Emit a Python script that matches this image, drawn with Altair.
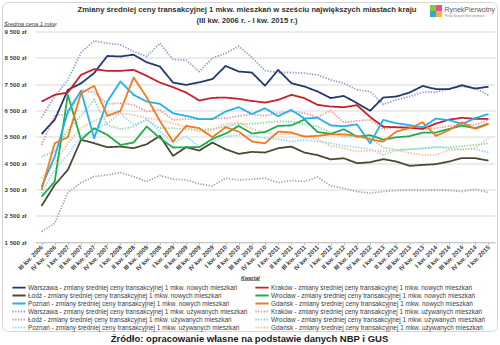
import altair as alt
import pandas as pd

quarters = [
    "III kw. 2006", "IV kw. 2006",
    "I kw. 2007", "II kw. 2007", "III kw. 2007", "IV kw. 2007",
    "I kw. 2008", "II kw. 2008", "III kw. 2008", "IV kw. 2008",
    "I kw. 2009", "II kw. 2009", "III kw. 2009", "IV kw. 2009",
    "I kw. 2010", "II kw. 2010", "III kw. 2010", "IV kw. 2010",
    "I kw. 2011", "II kw. 2011", "III kw. 2011", "IV kw. 2011",
    "I kw. 2012", "II kw. 2012", "III kw. 2012", "IV kw. 2012",
    "I kw. 2013", "II kw. 2013", "III kw. 2013", "IV kw. 2013",
    "I kw. 2014", "II kw. 2014", "III kw. 2014", "IV kw. 2014",
    "I kw. 2015",
]

SUF_N = " - zmiany średniej ceny transakcyjnej 1 mkw. nowych mieszkań"
SUF_U = " - zmiany średniej ceny transakcyjnej 1 mkw. używanych mieszkań"

warszawa_new = [5600, 6150, 7280, 7530, 7920, 8570, 8550, 8620, 8330, 8170, 7560, 7470, 7570, 7690, 8190, 7980,
                7940, 7440, 8040, 7540, 7410, 7220, 6970, 7050, 6780, 6490, 6990, 7030, 7180, 7430, 7310, 7310,
                7460, 7330, 7400]
krakow_new = [6838, 7092, 7180, 7852, 8068, 8004, 8004, 8042, 7814, 7560, 7383, 7180, 6876, 6978, 6990, 6940,
              6860, 6800, 6900, 7092, 6965, 6712, 6648, 6623, 6700, 6250, 5880, 5860, 5840, 5800, 6000, 6150,
              6220, 6180, 6180]
lodz_new = [2871, 3670, 4240, 5381, 5254, 5102, 5127, 5064, 5216, 5533, 4773, 5102, 4975, 5279, 5026, 4849,
            4925, 4900, 5064, 5127, 4900, 4800, 4640, 4684, 4494, 4530, 4650, 4557, 4395, 4430, 4458, 4557,
            4690, 4684, 4595]
wroclaw_new = [3226, 3796, 7092, 5381, 5825, 5571, 5190, 5279, 5888, 5450, 5090, 5102, 5102, 5420, 5620, 5913,
               5620, 5680, 5913, 5930, 6155, 5680, 5609, 5786, 5500, 5560, 5390, 5480, 5520, 5660, 5660, 5800,
               5920, 5825, 6000]
poznan_new = [3606, 4747, 6458, 7244, 5444, 6838, 7599, 7092, 6838, 6750, 6395, 6293, 6167, 6167, 6458, 6623,
              6360, 6585, 6280, 6521, 6190, 6225, 5930, 5900, 5970, 5250, 6141, 6015, 5940, 5862, 6190, 6130,
              5990, 6205, 6365]
gdansk_new = [3480, 5254, 5482, 7155, 7434, 6293, 6483, 7751, 7000, 6100, 5317, 5913, 5825, 5482, 5862, 5698,
              5320, 5250, 5698, 5660, 5508, 5533, 5590, 5590, 5533, 5400, 5317, 5700, 5825, 6050, 5535, 5750,
              6050, 5800, 5980]

warszawa_used = [6230, 7030, 7660, 8700, 9145, 9056, 8993, 8740, 8550, 9050, 8440, 8410, 7980, 8490, 8670, 8940,
                 8520, 8017, 7941, 7941, 7916, 7850, 7662, 7535, 7282, 7219, 6730, 6900, 7030, 7190, 7200, 7320,
                 7410, 7345, 7080]
krakow_used = [5190, 6331, 6331, 7282, 7180, 6750, 6775, 6712, 6458, 6521, 6141, 6167, 6167, 6200, 6205, 6293,
               6350, 6300, 6400, 6460, 6397, 6245, 6497, 6040, 6105, 6143, 5790, 5880, 5880, 5780, 5830, 5900,
               5950, 5950, 6140]
lodz_used = [1896, 2212, 3378, 3758, 3987, 4050, 4139, 3987, 3796, 4025, 3885, 3860, 3708, 3632, 3923, 3860,
             3888, 3926, 3760, 3835, 3800, 3964, 3633, 3545, 3417, 3356, 3420, 3460, 3480, 3460, 3480, 3460,
             3420, 3500, 3380]
wroclaw_used = [4747, 4937, 5761, 6293, 6902, 5951, 5786, 5888, 6141, 5825, 5825, 5786, 5761, 5800, 5888, 5989,
                5990, 6040, 6080, 6080, 5980, 5888, 5660, 5500, 5530, 5450, 5100, 5000, 5020, 5050, 5090, 5100,
                5140, 5190, 5250]
poznan_used = [3353, 4240, 4810, 5508, 5761, 6015, 6395, 5950, 6150, 5700, 5270, 5508, 5127, 5317, 5507, 5570,
               5535, 5447, 5407, 5317, 5382, 5317, 5255, 5150, 5100, 5025, 4812, 4975, 5026, 5065, 5127, 5065,
               5026, 5026, 4900]
gdansk_used = [3923, 4494, 5254, 5825, 6116, 6293, 6395, 6331, 6205, 6143, 6015, 5862, 5698, 5736, 5989, 6040,
               5800, 5650, 5600, 5610, 5530, 5400, 5150, 5065, 4937, 4975, 4950, 5000, 4875, 4812, 4812, 5000,
               5000, 5090, 5445]

cities = ["Warszawa", "Kraków", "Łódź", "Wrocław", "Poznań", "Gdańsk"]
new_vals = {"Warszawa": warszawa_new, "Kraków": krakow_new, "Łódź": lodz_new,
            "Wrocław": wroclaw_new, "Poznań": poznan_new, "Gdańsk": gdansk_new}
used_vals = {"Warszawa": warszawa_used, "Kraków": krakow_used, "Łódź": lodz_used,
             "Wrocław": wroclaw_used, "Poznań": poznan_used, "Gdańsk": gdansk_used}
new_colors = {"Warszawa": "#213a6e", "Kraków": "#c8202a", "Łódź": "#4d4832",
              "Wrocław": "#1fae4e", "Poznań": "#1fb2ee", "Gdańsk": "#f27a1f"}
used_colors = {"Warszawa": "#8ea0c6", "Kraków": "#f09494", "Łódź": "#aaa697",
               "Wrocław": "#8ed4a4", "Poznań": "#8ed9f4", "Gdańsk": "#f8bb8e"}

# legend entries fill column by column: left column, then right column
left_col = [("Warszawa", "n"), ("Łódź", "n"), ("Poznań", "n"), ("Warszawa", "u"), ("Łódź", "u"), ("Poznań", "u")]
right_col = [("Kraków", "n"), ("Wrocław", "n"), ("Gdańsk", "n"), ("Kraków", "u"), ("Wrocław", "u"), ("Gdańsk", "u")]
domain, colors, dashes, widths = [], [], [], []
for c, k in left_col + right_col:
    if k == "n":
        domain.append(c + SUF_N); colors.append(new_colors[c]); dashes.append([1, 0]); widths.append(1.8)
    else:
        domain.append(c + SUF_U); colors.append(used_colors[c]); dashes.append([1.3, 1.5]); widths.append(1.3)

rows_new, rows_used = [], []
for c in cities:
    for q, v in zip(quarters, new_vals[c]):
        rows_new.append({"q": q, "v": v, "s": c + SUF_N})
    for q, v in zip(quarters, used_vals[c]):
        rows_used.append({"q": q, "v": v, "s": c + SUF_U})
df_new = pd.DataFrame(rows_new)
df_used = pd.DataFrame(rows_used)

FONT = "Liberation Sans"
L, T, W, H = 35, 31.5, 460, 210.5

x_enc = alt.X("q:O", sort=quarters, scale=alt.Scale(type="point", padding=0.5),
              axis=alt.Axis(title=None, labelAngle=-45, labelAlign="right", labelBaseline="middle",
                            labelFont=FONT, labelFontSize=6.2, labelFontWeight="bold", labelColor="#404040",
                            labelPadding=1, domainColor="#c8c8c8", tickColor="#c8c8c8", tickSize=3,
                            grid=False, labelOverlap=False))
y_enc = alt.Y("v:Q", scale=alt.Scale(domain=[1500, 9500], nice=False, zero=False),
              axis=alt.Axis(title=None, values=list(range(1500, 9501, 1000)),
                            labelExpr="replace(format(datum.value, ','), ',', ' ') + ' zł'",
                            labelFont=FONT, labelFontSize=6.2, labelFontWeight="bold", labelColor="#404040",
                            domain=False, ticks=False, labelPadding=9, gridColor="#d9d9d9", gridWidth=1))
color_enc = alt.Color("s:N", scale=alt.Scale(domain=domain, range=colors),
                      legend=alt.Legend(title=None, orient="none", legendX=-20, legendY=252, columns=2,
                                        symbolType="M-2.2,0H2.2", symbolSize=36, symbolStrokeWidth=1.6,
                                        labelFont=FONT, labelFontSize=6.45, labelColor="#404040",
                                        rowPadding=0, columnPadding=3, labelLimit=400, symbolOffset=0,
                                        labelOffset=5))
dash_enc = alt.StrokeDash("s:N", scale=alt.Scale(domain=domain, range=dashes), legend=None)
width_enc = alt.StrokeWidth("s:N", scale=alt.Scale(domain=domain, range=widths), legend=None)

used_lines = alt.Chart(df_used).mark_line(strokeCap="butt").encode(
    x=x_enc, y=y_enc, color=color_enc, strokeDash=dash_enc, strokeWidth=width_enc)
new_lines = alt.Chart(df_new).mark_line(strokeCap="butt", strokeJoin="round").encode(
    x=x_enc, y=y_enc, color=color_enc, strokeDash=dash_enc, strokeWidth=width_enc)

one = pd.DataFrame({"a": [0]})


def txt(s, px, py, size, weight="normal", style="normal", align="left", color="#404040", font=FONT):
    return alt.Chart(pd.DataFrame({"t": [s]})).mark_text(
        fontSize=size, fontWeight=weight, fontStyle=style, align=align, baseline="middle",
        color=color, font=font).encode(x=alt.value(px - L), y=alt.value(py - T), text="t:N")


def rect(x1, y1, x2, y2, fill, stroke=None, radius=0):
    kw = dict(fill=fill, cornerRadius=radius)
    if stroke:
        kw.update(stroke=stroke, strokeWidth=1)
    return alt.Chart(one).mark_rect(**kw).encode(
        x=alt.value(x1 - L), x2=alt.value(x2 - L), y=alt.value(y1 - T), y2=alt.value(y2 - T))


def uline(x1, x2, py, color="#404040"):
    return alt.Chart(one).mark_rule(color=color, strokeWidth=0.6).encode(
        x=alt.value(x1 - L), x2=alt.value(x2 - L), y=alt.value(py - T))


border = rect(2.5, 2.5, 497.5, 331.5, "transparent", stroke="#d4d4d4", radius=6)

layers = [
    border,
    used_lines,
    new_lines,
    txt("Zmiany średniej ceny transakcyjnej 1 mkw. mieszkań w sześciu największych miastach kraju",
        247, 9.5, 7.7, weight="bold", align="center", color="#333333"),
    txt("(III kw. 2006 r. - I kw. 2015 r.)", 247, 20.5, 7.7, weight="bold", align="center", color="#333333"),
    txt("Średnia cena 1 mkw.", 4, 23.5, 5.8, style="italic", color="#404040"),
    uline(4, 55, 26.5),
    txt("Kwartał", 241, 277.5, 5.2, style="italic", weight="bold", color="#404040"),
    uline(241, 260, 280.5),
    # logo
    rect(430, 5, 436, 11, "#8cc63f"),
    rect(436, 5, 442, 11, "#e94e8e"),
    rect(430, 11, 436, 17, "#2aaae2"),
    rect(436, 11, 442, 17, "#fbb03b"),
    txt("RynekPierwotny", 444.5, 9.5, 7, color="#5a5a5a"),
    txt("Portal Nowych Nieruchomości", 445, 15.5, 3, color="#888888"),
    txt("Źródło: opracowanie własne na podstawie danych NBP i GUS", 249.5, 338.5, 9.5,
        weight="bold", align="center", color="#1a1a1a"),
]

chart = alt.layer(*layers).properties(
    width=W, height=H, autosize=alt.AutoSizeParams(type="none"),
    padding={"left": L, "top": T, "right": 500 - L - W, "bottom": 345 - T - H},
    background="white",
).configure_view(stroke=None)

chart.save("out.html", embed_options={"renderer": "svg", "actions": False})
